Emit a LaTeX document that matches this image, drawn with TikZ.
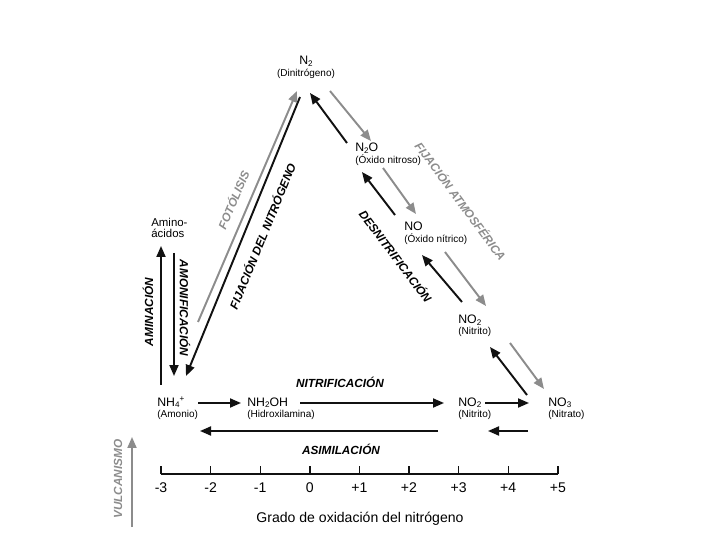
\documentclass[tikz,border=0pt]{standalone}
\usepackage{fontspec}
\setmainfont{Liberation Sans}
\usepackage{tikz}
\usetikzlibrary{arrows.meta,positioning,calc}
\definecolor{grayc}{HTML}{8C8C8C}
\definecolor{inkc}{HTML}{111111}
\tikzset{
  >={Triangle[length=2.2mm,width=1.8mm]},
  chem/.style={font=\fontsize{7}{8}\selectfont,anchor=base west,inner sep=0pt},
  cname/.style={font=\fontsize{5.7}{7}\selectfont,anchor=base west,inner sep=0pt},
  proc/.style={font=\fontsize{6.7}{8}\selectfont\bfseries\itshape,inner sep=0pt},
  gproc/.style={proc,text=grayc},
  blk/.style={->,line width=1.1pt,draw=inkc},
  gry/.style={->,line width=1.1pt,draw=grayc},
  tk/.style={line width=0.8pt,draw=inkc},
  tlab/.style={font=\fontsize{8}{9}\selectfont,anchor=base,inner sep=0pt},
}
\newcommand{\lo}[1]{\raisebox{-0.3ex}{\fontsize{4.6}{5}\selectfont#1}}
\newcommand{\hi}[1]{\raisebox{0.75ex}{\fontsize{4.6}{5}\selectfont#1}}

\begin{document}
\begin{tikzpicture}[x=0.02cm,y=-0.02cm]
  \useasboundingbox (0,0) rectangle (720,540);
  % species
  \node[chem,anchor=base] (n2) at (306,65) {N\lo{2}};
  \node[cname,anchor=base] (n2-n) at (306,77) {(Dinitrógeno)};
  \node[chem] (n2o) at (355,152) {N\lo{2}O};
  \node[cname] (n2o-n) at (355,164) {(Óxido nitroso)};
  \node[chem] (no) at (404,231) {NO};
  \node[cname] (no-n) at (404,243) {(Óxido nítrico)};
  \node[chem] (no2m) at (458,324) {NO\lo{2}};
  \node[cname] (no2m-n) at (458,335) {(Nitrito)};
  \node[chem] (nh4) at (157,406) {NH\lo{4}\hi{+}};
  \node[cname] (nh4-n) at (157,418) {(Amonio)};
  \node[chem] (nh2oh) at (247,406) {NH\lo{2}OH};
  \node[cname] (nh2oh-n) at (247,418) {(Hidroxilamina)};
  \node[chem] (no2) at (458,406) {NO\lo{2}};
  \node[cname] (no2-n) at (458,418) {(Nitrito)};
  \node[chem] (no3) at (548,406) {NO\lo{3}};
  \node[cname] (no3-n) at (548,418) {(Nitrato)};
  \node[font=\fontsize{6.5}{6.3}\selectfont,align=left,anchor=north west,inner sep=0pt] (amino) at (151,218) {Amino-\\ácidos};

  % arrow ends
  \coordinate (n2o-a) at (347,143);  \coordinate (n2-a) at (310,93);
  \coordinate (no-a) at (395,215);   \coordinate (n2o-b) at (362,172);
  \coordinate (no2m-a) at (462,302); \coordinate (no-b) at (422,255);
  \coordinate (no3-a) at (527,395);  \coordinate (no2m-b) at (490,347);
  \coordinate (n2-b) at (300,97);    \coordinate (nh4-a) at (186,376);
  \coordinate (nh4-b) at (161,385);  \coordinate (amino-a) at (161,246);
  \coordinate (amino-b) at (174,253);\coordinate (nh4-c) at (174,376);
  \coordinate (nh4-e) at (198,403);  \coordinate (nh2oh-a) at (241,403);
  \coordinate (nh2oh-b) at (300,403);\coordinate (no2-c) at (444,403);
  \coordinate (no2-d) at (485,403);  \coordinate (no3-d) at (529,403);
  \coordinate (no2-a) at (438,431);  \coordinate (nh4-d) at (200,431);
  \coordinate (no3-b) at (528,431);  \coordinate (no2-b) at (488,431);
  \coordinate (n2-c) at (330,91);    \coordinate (n2o-c) at (371,141);
  \coordinate (n2o-d) at (383,168);  \coordinate (no-c) at (416,214);
  \coordinate (no-d) at (445,252);   \coordinate (no2m-c) at (486,306);
  \coordinate (no2m-d) at (510,343); \coordinate (no3-c) at (544,389);
  \coordinate (foto-a) at (198,322); \coordinate (n2-d) at (297,91);
  \coordinate (vulc-a) at (132,527); \coordinate (vulc-b) at (132,437);

  % black
  \draw[blk] (n2o-a) -- (n2-a);
  \draw[blk] (no-a) -- (n2o-b);
  \draw[blk] (no2m-a) -- (no-b);
  \draw[blk] (no3-a) -- (no2m-b);
  \draw[blk] (n2-b) -- (nh4-a);
  \draw[blk] (nh4-b) -- (amino-a);
  \draw[blk] (amino-b) -- (nh4-c);
  \draw[blk] (nh4-e) -- (nh2oh-a);
  \draw[blk] (nh2oh-b) -- (no2-c);
  \draw[blk] (no2-d) -- (no3-d);
  \draw[blk] (no2-a) -- (nh4-d);
  \draw[blk] (no3-b) -- (no2-b);
  % gray
  \draw[gry] (n2-c) -- (n2o-c);
  \draw[gry] (n2o-d) -- (no-c);
  \draw[gry] (no-d) -- (no2m-c);
  \draw[gry] (no2m-d) -- (no3-c);
  \draw[gry] (foto-a) -- (n2-d);
  \draw[gry] (vulc-a) -- (vulc-b);

  % process labels
  \node[proc,rotate=90] (amin) at (148,312) {AMINACIÓN};
  \node[proc,rotate=-90] (amon) at (185,308) {AMONIFICACIÓN};
  \node[gproc,rotate=67] (foto) at (233,200) {FOTÓLISIS};
  \node[proc,rotate=67.8] (fijn) at (262,236) {FIJACIÓN DEL NITRÓGENO};
  \node[proc,rotate=-53] (desn) at (396,256) {DESNITRIFICACIÓN};
  \node[gproc,rotate=-53.5] (fatm) at (461,201) {FIJACIÓN ATMOSFÉRICA};
  \node[proc] (nitr) at (340,382) {NITRIFICACIÓN};
  \node[proc] (asim) at (341,449) {ASIMILACIÓN};
  \node[gproc,rotate=90] (vulc) at (118,479) {VULCANISMO};

  % axis
  \foreach \v [count=\k from 0] in {-3,-2,-1,0,+1,+2,+3,+4,+5} {
    \coordinate (t\k) at (161+\k*49.6,474);
    \draw[tk] (t\k) -- ++(0,-8);
    \node[tlab] (tl\k) at (161+\k*49.6,492) {\v};
  }
  \draw[tk] (t0) -- (t8);
  \node[tlab] (axt) at (360,522) {Grado de oxidación del nitrógeno};
\end{tikzpicture}
\end{document}
